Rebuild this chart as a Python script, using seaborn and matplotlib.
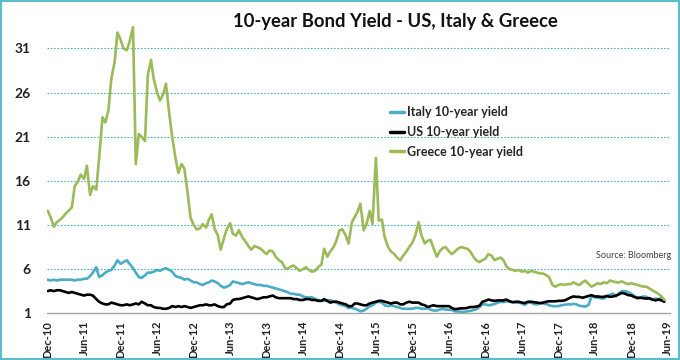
import numpy as np
import pandas as pd
import matplotlib
matplotlib.use("Agg")
import matplotlib.pyplot as plt
from matplotlib.lines import Line2D
from matplotlib.patches import Rectangle
import seaborn as sns

# ---------------- data (semi-monthly readings, Dec-2010 .. May-2019) ----------------
dates = pd.date_range("2010-12-01", "2019-05-15", freq="SMS")

greece = [
    12.6, 11.9,                                                             # 2010-12
    10.8, 11.3, 11.6, 11.9, 12.3, 12.6, 13.0, 15.4, 15.9, 16.7, 16.2, 17.7,  # 2011 H1
    14.4, 15.4, 15.0, 18.5, 23.2, 22.6, 24.0, 27.5, 29.5, 32.8, 32.0, 31.0,  # 2011 H2
    30.8, 31.8, 33.4, 17.9, 21.3, 21.0, 20.5, 28.0, 29.7, 27.5, 26.0, 25.1,  # 2012 H1
    25.8, 27.0, 23.5, 21.0, 18.5, 16.9, 17.9, 17.4, 14.5, 11.8, 11.0, 10.5,  # 2012 H2
    10.6, 11.1, 10.7, 11.6, 12.2, 10.6, 9.8, 8.2, 9.5, 10.5, 11.2, 10.0,     # 2013 H1
    9.8, 10.4, 9.6, 9.2, 8.6, 8.2, 8.6, 8.5, 8.3, 8.0, 7.7, 8.1,             # 2013 H2
    8.0, 7.4, 7.0, 6.8, 6.2, 6.0, 6.3, 6.4, 6.1, 5.8, 6.0, 6.2,              # 2014 H1
    5.9, 5.7, 5.8, 6.2, 6.5, 8.3, 7.4, 8.0, 8.5, 9.2, 10.4, 10.5,            # 2014 H2
    9.8, 8.9, 11.3, 11.9, 12.5, 13.4, 10.4, 11.1, 12.6, 11.1, 18.6, 11.5,    # 2015 H1
    11.6, 9.6, 8.5, 8.0, 7.7, 7.3, 7.0, 7.5, 8.0, 8.5, 9.0, 9.8,             # 2015 H2
    11.3, 9.8, 8.9, 9.2, 9.3, 8.4, 7.4, 8.0, 8.4, 8.5, 8.0, 7.7,             # 2016 H1
    8.0, 8.3, 8.5, 8.4, 8.3, 8.0, 7.4, 7.0, 6.8, 7.0, 7.2, 7.7,              # 2016 H2
    7.5, 7.0, 7.2, 7.3, 7.0, 6.3, 6.0, 5.9, 5.8, 5.9, 5.7, 5.8,              # 2017 H1
    5.6, 5.8, 5.7, 5.6, 5.5, 5.5, 5.3, 5.1, 4.2, 4.0, 4.2, 4.3,              # 2017 H2
    4.2, 4.3, 4.3, 4.5, 4.3, 4.2, 4.5, 4.7, 4.3, 4.0, 4.2, 4.4,              # 2018 H1
    4.3, 4.5, 4.4, 4.7, 4.6, 4.5, 4.5, 4.6, 4.4, 4.3, 4.4, 4.3,              # 2018 H2
    4.2, 4.1, 4.0, 4.0, 3.8, 3.6, 3.4, 3.2, 2.9, 2.5,                        # 2019
]

us = [
    3.5, 3.6,
    3.5, 3.6, 3.6, 3.5, 3.4, 3.3, 3.4, 3.3, 3.2, 3.1, 3.0, 3.1,
    3.1, 3.0, 2.6, 2.3, 2.1, 2.0, 2.0, 2.2, 2.1, 2.0, 1.9, 1.9,
    2.0, 1.9, 2.0, 2.1, 2.0, 2.3, 2.1, 1.9, 1.9, 1.7, 1.6, 1.6,
    1.5, 1.5, 1.6, 1.8, 1.7, 1.8, 1.7, 1.8, 1.7, 1.6, 1.7, 1.8,
    1.9, 1.9, 2.0, 1.9, 1.9, 2.0, 1.8, 1.7, 1.7, 2.0, 2.1, 2.5,
    2.6, 2.6, 2.7, 2.8, 2.9, 2.8, 2.7, 2.6, 2.7, 2.8, 2.8, 2.9,
    3.0, 2.8, 2.7, 2.7, 2.7, 2.7, 2.7, 2.6, 2.6, 2.5, 2.5, 2.6,
    2.6, 2.5, 2.5, 2.4, 2.4, 2.6, 2.4, 2.2, 2.3, 2.3, 2.2, 2.1,
    2.0, 1.8, 1.8, 2.1, 2.1, 2.0, 1.9, 1.9, 2.1, 2.2, 2.3, 2.4,
    2.4, 2.3, 2.2, 2.1, 2.2, 2.2, 2.0, 2.0, 2.2, 2.3, 2.2, 2.2,
    2.2, 2.0, 1.9, 1.7, 1.8, 1.9, 1.8, 1.8, 1.8, 1.8, 1.8, 1.6,
    1.45, 1.5, 1.55, 1.55, 1.6, 1.7, 1.7, 1.75, 1.85, 2.3, 2.4, 2.55,
    2.45, 2.4, 2.45, 2.45, 2.45, 2.55, 2.35, 2.25, 2.3, 2.3, 2.2, 2.15,
    2.3, 2.3, 2.25, 2.2, 2.15, 2.2, 2.3, 2.35, 2.35, 2.35, 2.4, 2.4,
    2.45, 2.6, 2.8, 2.9, 2.85, 2.85, 2.75, 2.85, 2.95, 3.05, 2.9, 2.9,
    2.85, 2.85, 2.95, 2.85, 2.9, 3.0, 3.15, 3.3, 3.2, 3.05, 3.0, 2.85,
    2.7, 2.75, 2.7, 2.65, 2.7, 2.55, 2.45, 2.55, 2.45, 2.3,
]

italy = [
    4.8, 4.7,
    4.8, 4.7, 4.8, 4.8, 4.8, 4.8, 4.8, 4.7, 4.8, 4.8, 4.9, 4.9,
    5.2, 5.6, 6.2, 5.1, 5.3, 5.6, 5.8, 5.9, 6.4, 7.0, 6.6, 6.8,
    7.0, 6.6, 6.1, 5.6, 5.1, 5.0, 5.3, 5.6, 5.6, 5.7, 5.9, 5.8,
    6.0, 6.1, 5.9, 5.7, 5.2, 5.1, 5.0, 4.8, 4.9, 4.7, 4.5, 4.5,
    4.3, 4.2, 4.4, 4.5, 4.7, 4.6, 4.4, 4.1, 3.9, 4.0, 4.2, 4.6,
    4.5, 4.4, 4.3, 4.4, 4.5, 4.4, 4.3, 4.2, 4.2, 4.1, 4.1, 4.0,
    3.9, 3.8, 3.7, 3.6, 3.5, 3.4, 3.2, 3.2, 3.1, 3.1, 2.9, 2.8,
    2.8, 2.8, 2.6, 2.5, 2.4, 2.4, 2.4, 2.5, 2.3, 2.2, 2.0, 1.9,
    1.8, 1.6, 1.6, 1.5, 1.4, 1.2, 1.3, 1.5, 1.8, 1.9, 2.2, 2.3,
    2.2, 1.9, 1.8, 1.9, 1.8, 1.7, 1.6, 1.5, 1.5, 1.5, 1.5, 1.6,
    1.6, 1.5, 1.5, 1.6, 1.4, 1.3, 1.3, 1.4, 1.5, 1.4, 1.4, 1.35,
    1.2, 1.2, 1.15, 1.15, 1.2, 1.25, 1.35, 1.45, 1.7, 2.0, 2.0, 1.9,
    1.95, 2.05, 2.2, 2.3, 2.25, 2.35, 2.3, 2.25, 2.2, 2.2, 2.1, 1.95,
    2.2, 2.2, 2.05, 2.0, 2.1, 2.1, 2.05, 1.9, 1.8, 1.8, 1.8, 1.9,
    1.95, 2.0, 2.0, 2.05, 2.0, 1.85, 1.8, 1.75, 1.95, 2.9, 2.8, 2.75,
    2.7, 2.65, 2.9, 3.1, 3.2, 2.9, 3.3, 3.5, 3.5, 3.4, 3.2, 2.9,
    2.8, 2.8, 2.9, 2.85, 2.65, 2.55, 2.65, 2.6, 2.7, 2.5,
]

series_names = ["Italy 10-year yield", "US 10-year yield", "Greece 10-year yield"]
colors = ["#4bacc6", "#000000", "#9bbb59"]
yticks = [1, 6, 11, 16, 21, 26, 31]
xtick_dates = pd.date_range("2010-12-01", "2019-06-01", freq="6MS")

df = pd.concat([
    pd.DataFrame({"date": dates, "yield": italy, "series": series_names[0]}),
    pd.DataFrame({"date": dates, "yield": us, "series": series_names[1]}),
    pd.DataFrame({"date": dates, "yield": greece, "series": series_names[2]}),
], ignore_index=True)

# ---------------- style ----------------
sns.set_theme(style="white")
plt.rcParams["font.family"] = ["Lato", "DejaVu Sans"]

fig = plt.figure(figsize=(6.8, 3.6), dpi=100)
ax = fig.add_axes([0.0696, 0.13, 0.915, 0.809])

sns.lineplot(data=df, x="date", y="yield", hue="series", hue_order=series_names,
             palette=dict(zip(series_names, colors)), linewidth=1.9, ax=ax,
             legend=False, estimator=None)

ax.set_ylim(1, 34)
ax.set_xlim(pd.Timestamp("2010-11-29"), pd.Timestamp("2019-06-10"))
ax.set_yticks(yticks)
ax.set_yticklabels([str(v) for v in yticks], fontsize=10, fontweight="bold", color="#222222")
ax.set_xticks(xtick_dates)
ax.set_xticklabels([d.strftime("%b-%y") for d in xtick_dates], rotation=90,
                   fontsize=8, fontweight="bold", color="#222222")
ax.set_xlabel("")
ax.set_ylabel("")

for y in yticks[1:]:
    ax.axhline(y, color="#4bacc6", lw=0.8, ls=(0, (1.5, 1.5)), zorder=0)

for s in ["top", "right", "left"]:
    ax.spines[s].set_visible(False)
ax.spines["bottom"].set_color("#a6a6a6")
ax.spines["bottom"].set_linewidth(1.0)
ax.tick_params(axis="x", length=4, width=1, color="#a6a6a6", direction="out", pad=1.5)
ax.tick_params(axis="y", length=0, pad=12)

handles = [Line2D([0], [0], color=c, lw=2.5) for c in colors]
ax.legend(handles, series_names, loc="upper left", bbox_to_anchor=(0.574, 0.705),
          bbox_transform=fig.transFigure, frameon=False, handlelength=1.1,
          handletextpad=0.25, labelspacing=0.62, borderaxespad=0, borderpad=0,
          prop={"weight": "bold", "size": 9})

fig.text(0.582, 0.939, "10-year Bond Yield - US, Italy & Greece", ha="center", va="center",
         fontsize=13.3, fontweight="bold", color="#111111")
fig.text(0.932, 0.289, "Source: Bloomberg", ha="center", va="center", fontsize=6.5,
         color="#404040")

fig.patches.append(Rectangle((0, 0), 1, 1, transform=fig.transFigure, fill=False,
                             edgecolor="#5cbccc", lw=3, zorder=10))

fig.savefig("out.png", dpi=100)
